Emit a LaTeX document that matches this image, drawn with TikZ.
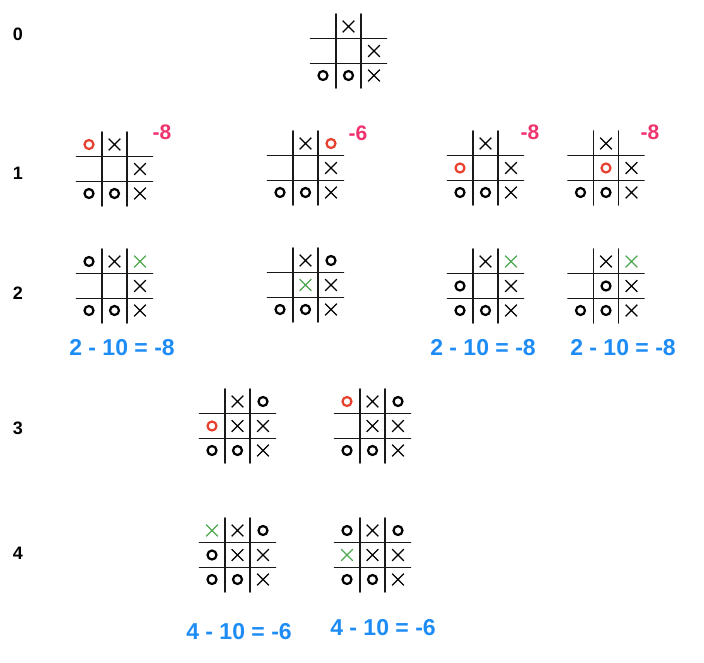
\documentclass[tikz,border=0pt]{standalone}
\usepackage{fontspec}
\setmainfont{Liberation Sans}
\usepackage{tikz}
\usetikzlibrary{shapes.misc, positioning}
\definecolor{moveO}{HTML}{E8402F}
\definecolor{moveX}{HTML}{4DA851}
\definecolor{scorepink}{HTML}{F0326E}
\definecolor{scoreblue}{HTML}{1E8CF5}

% grid and marks of one board: #1 node name, #2 list col/row/mark/colour
\newcommand{\drawboard}[2]{%
  \begin{scope}[shift={(#1.center)}]
    \draw[gridline] (-38,-12.5) -- (38,-12.5);
    \draw[gridline] (-38,12.5) -- (38,12.5);
    \draw[gridline] (-12.5,-37) -- (-12.5,37);
    \draw[gridline] (12.5,-37) -- (12.5,37);
    \foreach \c/\r/\m/\col in {#2}
      \node[mk\m, draw=\col] at ({(\c-2)*25.5},{(\r-2)*24.5}) {};
  \end{scope}}

\begin{document}
\begin{tikzpicture}[
    x=1pt, y=-1pt,
    board/.style={rectangle, minimum size=75pt, inner sep=0pt},
    gridline/.style={line width=1.6pt, black!90, line cap=round},
    mko/.style={circle, minimum size=9pt, inner sep=0pt, line width=2.2pt},
    mkx/.style={cross out, minimum size=10.5pt, inner sep=0pt, line width=1.2pt},
    rownum/.style={font=\fontsize{18}{20}\selectfont\bfseries},
    score/.style={font=\fontsize{21}{23}\selectfont\bfseries, text=scorepink},
    total/.style={font=\fontsize{23}{25}\selectfont\bfseries, text=scoreblue}
]
    \useasboundingbox (0,0) rectangle (704,662);

    % row numbers
    \node[rownum] (r0) at (18,34) {0};
    \node[rownum] (r1) at (18,173) {1};
    \node[rownum] (r2) at (18,293) {2};
    \node[rownum] (r3) at (18,428) {3};
    \node[rownum] (r4) at (18,553) {4};

    % row 0: start position
    \node[board] (b0) at (348.5,51) {};
    \drawboard{b0}{2/1/x/black, 3/2/x/black, 1/3/o/black, 2/3/o/black, 3/3/x/black}

    % row 1: O moves
    \node[board] (b1a) at (114.5,169) {};
    \node[board] (b1b) at (305.5,168) {};
    \node[board] (b1c) at (485.5,168) {};
    \node[board] (b1d) at (606,168) {};
    \drawboard{b1a}{1/1/o/moveO, 2/1/x/black, 3/2/x/black, 1/3/o/black, 2/3/o/black, 3/3/x/black}
    \drawboard{b1b}{2/1/x/black, 3/1/o/moveO, 3/2/x/black, 1/3/o/black, 2/3/o/black, 3/3/x/black}
    \drawboard{b1c}{2/1/x/black, 1/2/o/moveO, 3/2/x/black, 1/3/o/black, 2/3/o/black, 3/3/x/black}
    \drawboard{b1d}{2/1/x/black, 2/2/o/moveO, 3/2/x/black, 1/3/o/black, 2/3/o/black, 3/3/x/black}
    \node[score] (s1a) at (162,132) {-8};
    \node[score] (s1b) at (358,133) {-6};
    \node[score] (s1c) at (530,132) {-8};
    \node[score] (s1d) at (650,132) {-8};

    % row 2: X replies
    \node[board] (b2a) at (114.5,286) {};
    \node[board] (b2b) at (305.5,285) {};
    \node[board] (b2c) at (485.5,286) {};
    \node[board] (b2d) at (606,286) {};
    \drawboard{b2a}{1/1/o/black, 2/1/x/black, 3/1/x/moveX, 3/2/x/black, 1/3/o/black, 2/3/o/black, 3/3/x/black}
    \drawboard{b2b}{2/1/x/black, 3/1/o/black, 2/2/x/moveX, 3/2/x/black, 1/3/o/black, 2/3/o/black, 3/3/x/black}
    \drawboard{b2c}{2/1/x/black, 3/1/x/moveX, 1/2/o/black, 3/2/x/black, 1/3/o/black, 2/3/o/black, 3/3/x/black}
    \drawboard{b2d}{2/1/x/black, 3/1/x/moveX, 2/2/o/black, 3/2/x/black, 1/3/o/black, 2/3/o/black, 3/3/x/black}
    \node[total] (t2a) at (122,348) {2 - 10 = -8};
    \node[total] (t2c) at (483,348) {2 - 10 = -8};
    \node[total] (t2d) at (623,348) {2 - 10 = -8};

    % row 3: O moves after the centre X
    \node[board] (b3a) at (237.5,426) {};
    \node[board] (b3b) at (372.5,426) {};
    \drawboard{b3a}{2/1/x/black, 3/1/o/black, 1/2/o/moveO, 2/2/x/black, 3/2/x/black, 1/3/o/black, 2/3/o/black, 3/3/x/black}
    \drawboard{b3b}{1/1/o/moveO, 2/1/x/black, 3/1/o/black, 2/2/x/black, 3/2/x/black, 1/3/o/black, 2/3/o/black, 3/3/x/black}

    % row 4: X fills the last cell
    \node[board] (b4a) at (237.5,555) {};
    \node[board] (b4b) at (372.5,555) {};
    \drawboard{b4a}{1/1/x/moveX, 2/1/x/black, 3/1/o/black, 1/2/o/black, 2/2/x/black, 3/2/x/black, 1/3/o/black, 2/3/o/black, 3/3/x/black}
    \drawboard{b4b}{1/1/o/black, 2/1/x/black, 3/1/o/black, 1/2/x/moveX, 2/2/x/black, 3/2/x/black, 1/3/o/black, 2/3/o/black, 3/3/x/black}
    \node[total] (t4a) at (239,632) {4 - 10 = -6};
    \node[total] (t4b) at (383,628) {4 - 10 = -6};
\end{tikzpicture}
\end{document}
